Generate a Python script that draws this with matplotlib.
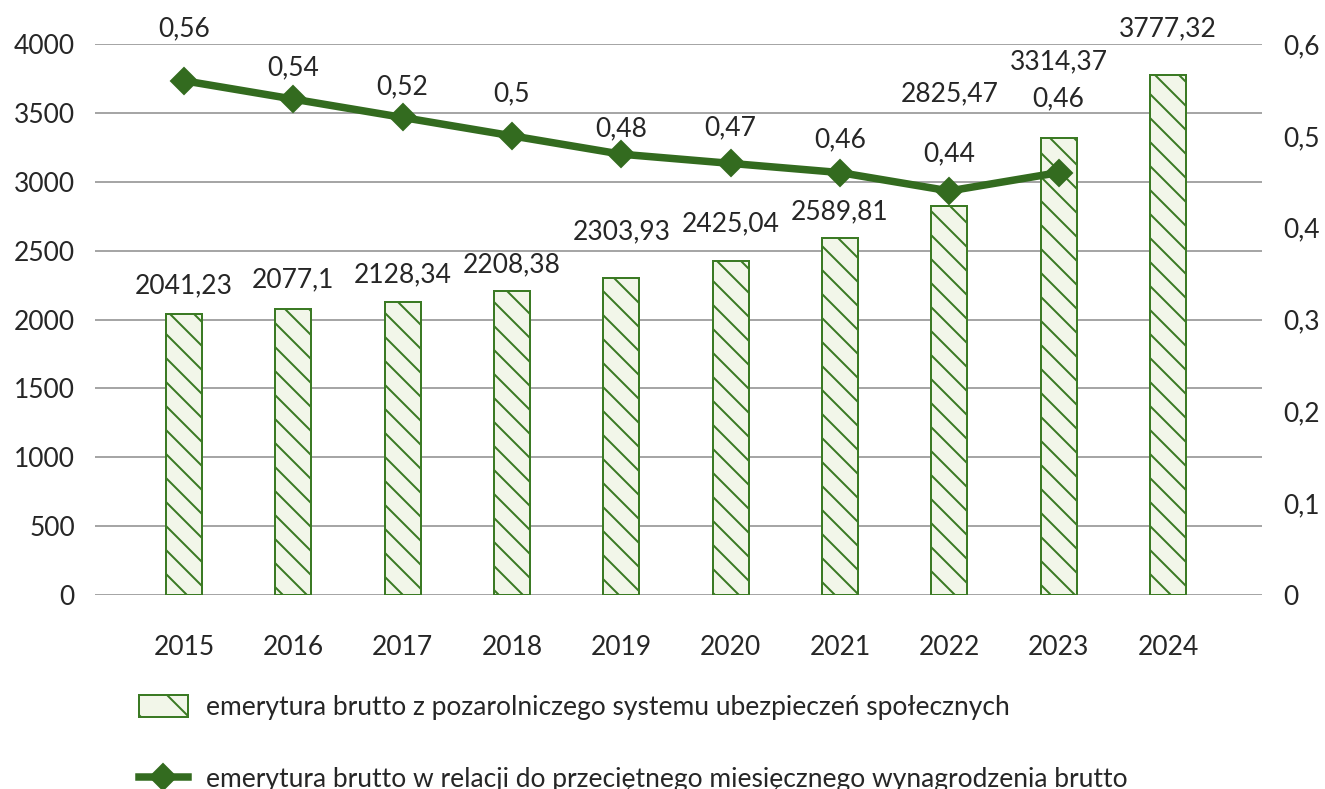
import matplotlib
matplotlib.use('Agg')
import matplotlib.pyplot as plt
from matplotlib.patches import Patch
from matplotlib.lines import Line2D
from matplotlib.ticker import FuncFormatter
import numpy as np

years = ['2015', '2016', '2017', '2018', '2019', '2020', '2021', '2022', '2023', '2024']
pension = [2041.23, 2077.1, 2128.34, 2208.38, 2303.93, 2425.04, 2589.81, 2825.47, 3314.37, 3777.32]
ratio = [0.56, 0.54, 0.52, 0.5, 0.48, 0.47, 0.46, 0.44, 0.46]

# label nudges in pixels (Excel moved some of them around)
bar_lbl_dy = [28, 29, 27, 26, 46, 37, 26, 112, 77, 46]
line_lbl_dy = [52, 31, 31, 42, 25, 36, 33, 37, 74]

legend_labels = ['emerytura brutto z pozarolniczego systemu ubezpieczeń społecznych',
                 'emerytura brutto w relacji do przeciętnego miesięcznego wynagrodzenia brutto']

GREEN = '#336b1f'
BAR_EDGE = '#3b7a24'
BAR_FACE = '#f2f6e9'
GRID = '#a6a6a6'
TXT = '#262626'
FS = 13.2

plt.rcParams['font.family'] = ['Lato', 'DejaVu Sans']
plt.rcParams['hatch.linewidth'] = 1.0
plt.rcParams['hatch.color'] = BAR_EDGE

DPI = 144
fig = plt.figure(figsize=(1325 / DPI, 789 / DPI), dpi=DPI)
ax = fig.add_axes([95 / 1325, 1 - 595 / 789, (1262 - 95) / 1325, (595 - 44) / 789])
ax2 = ax.twinx()

x = np.arange(len(years))
ax.bar(x, pension, width=0.33, facecolor=BAR_FACE, edgecolor=BAR_EDGE,
       linewidth=1.0, hatch='\\\\', zorder=2)
ax.set_ylim(0, 4000)
ax.set_yticks(np.arange(0, 4001, 500))
ax.set_xlim(-0.814, 9.86)
ax.set_xticks(x)
ax.set_xticklabels(years)
ax.grid(axis='y', color=GRID, linewidth=1.0, zorder=0)
ax.set_axisbelow(True)

ax2.plot(x[:len(ratio)], ratio, color=GREEN, linewidth=3.75, marker='D',
         markersize=9.5, zorder=3)
ax2.set_ylim(0, 0.6)
ax2.set_yticks(np.arange(0, 0.61, 0.1))
ax2.yaxis.set_major_formatter(FuncFormatter(
    lambda v, p: '0' if abs(v) < 1e-9 else f'{v:.1f}'.replace('.', ',')))

for a in (ax, ax2):
    for s in a.spines.values():
        s.set_visible(False)
ax.tick_params(axis='y', length=0, pad=10, labelsize=FS, labelcolor=TXT)
ax.tick_params(axis='x', length=0, pad=20, labelsize=FS, labelcolor=TXT)
ax2.tick_params(axis='y', length=0, pad=10.5, labelsize=FS, labelcolor=TXT)

def fmt(v):
    return str(v).replace('.', ',')

for i, v in enumerate(pension):
    ax.annotate(fmt(v), (x[i], v), xytext=(0, bar_lbl_dy[i]), textcoords='offset pixels',
                ha='center', va='center', fontsize=FS, color=TXT, zorder=5)
for i, v in enumerate(ratio):
    ax2.annotate(fmt(v), (x[i], v), xytext=(0, line_lbl_dy[i]), textcoords='offset pixels',
                 ha='center', va='center', fontsize=FS, color=TXT, zorder=5)

handles = [Patch(facecolor=BAR_FACE, edgecolor=BAR_EDGE, linewidth=1.0, hatch='\\'),
           Line2D([0], [0], color=GREEN, linewidth=3.75, marker='D', markersize=9.5)]
fig.legend(handles, legend_labels, loc='upper left', bbox_to_anchor=(139 / 1325, 1 - 695 / 789),
           frameon=False, fontsize=FS, labelcolor=TXT, borderpad=0, borderaxespad=0,
           handlelength=1.85, handleheight=0.9, handletextpad=0.68, labelspacing=1.78)

fig.savefig('out.png', dpi=DPI)
